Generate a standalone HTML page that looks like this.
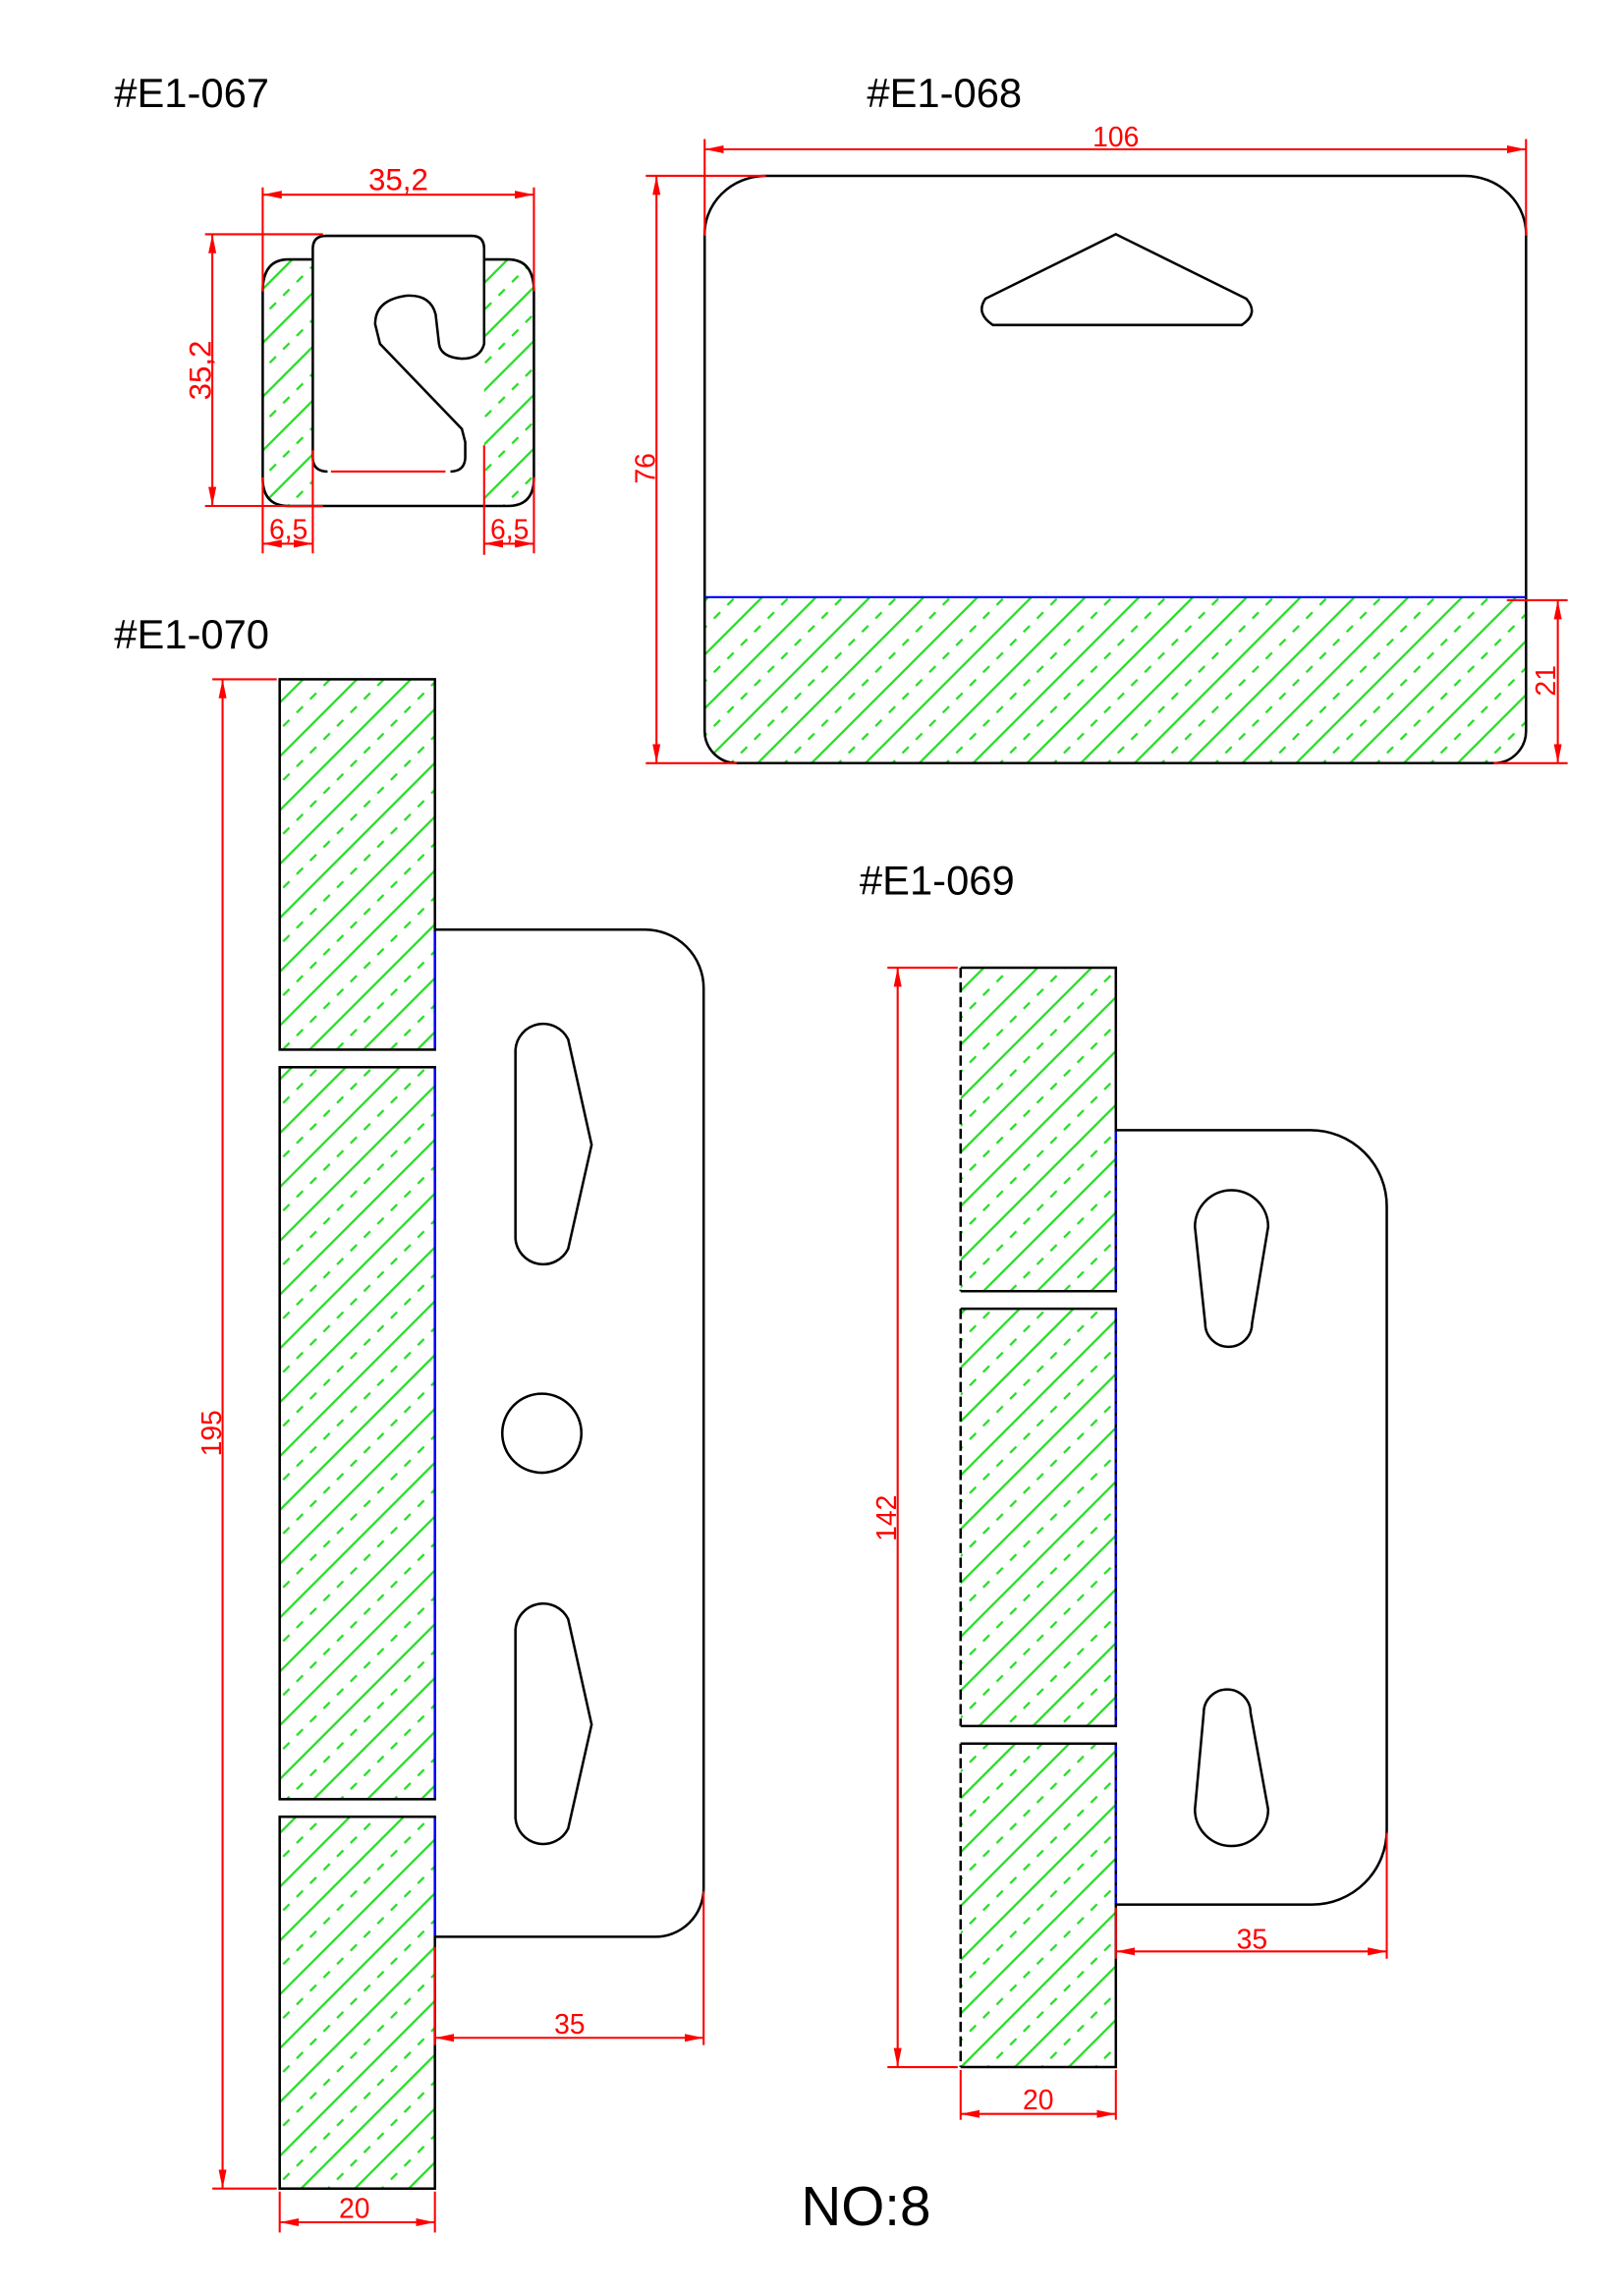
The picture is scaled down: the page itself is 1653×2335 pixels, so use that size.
<!DOCTYPE html>
<html><head><meta charset="utf-8"><style>html,body{margin:0;padding:0;background:#fff}svg{display:block}</style></head>
<body>
<svg xmlns="http://www.w3.org/2000/svg" width="1653" height="2335" viewBox="0 0 1109 1567" preserveAspectRatio="none" font-family="Liberation Sans, sans-serif">
<defs>
<pattern id="h" patternUnits="userSpaceOnUse" width="26" height="91" patternTransform="rotate(45)">
<line x1="6.5" y1="0" x2="6.5" y2="91" stroke="#22dd22" stroke-width="1.5"/>
<line x1="19.5" y1="0" x2="19.5" y2="91" stroke="#22dd22" stroke-width="1.5" stroke-dasharray="6 7"/>
</pattern>
<marker id="a" markerUnits="userSpaceOnUse" markerWidth="14" markerHeight="6" refX="13" refY="3" orient="auto-start-reverse"><path d="M0,0.3 L13,3 L0,5.7 Z" fill="#f00"/></marker>
<clipPath id="c67"><path d="M196.9,177.2 Q179.4,177.2 179.4,199.1 V326.6 Q179.4,345.6 196.9,345.6 H346.8 Q364.6,345.6 364.6,326.6 V199.1 Q364.6,177.2 346.8,177.2 Z"/></clipPath>
<clipPath id="c68"><path d="M481.2,407.9 H1042.1 V499 A22,22 0 0 1 1020,521.3 H503 A22,22 0 0 1 481.2,499 Z"/></clipPath>
</defs>

<g fill="#000" font-size="28">
<text x="78" y="73">#E1-067</text>
<text x="592" y="73">#E1-068</text>
<text x="78" y="443">#E1-070</text>
<text x="587" y="611">#E1-069</text>
<text x="547" y="1520" font-size="38">NO:8</text>
</g>

<!-- E1-067 -->
<g clip-path="url(#c67)">
<rect x="179.4" y="177" width="34.2" height="169" fill="url(#h)"/>
<rect x="330.6" y="177" width="34" height="169" fill="url(#h)"/>
</g>
<g fill="none" stroke="#000" stroke-width="1.7">
<path d="M213.6,177.2 H196.9 Q179.4,177.2 179.4,199.1 V326.6 Q179.4,345.6 196.9,345.6 H346.8 Q364.6,345.6 364.6,326.6 V199.1 Q364.6,177.2 346.8,177.2 H330.6"/>
<path d="M213.6,313.2 V170 Q213.6,161.1 222.6,161.1 H322.1 Q330.6,161.1 330.6,170 V234.9 Q328,245 315.4,245 Q301,244 299.8,234.9 L297.5,214.8 Q294,201 277.4,202 Q256,205 256.2,221.5 L259.5,234.9 L315.4,293 L317.7,302 V313.2 Q317,322 307.6,322.1"/>
<path d="M213.6,313.2 Q214,322 223.7,322.1"/>
</g>
<g stroke="#f00" stroke-width="1.4" fill="none">
<line x1="226" y1="322.1" x2="304.2" y2="322.1"/>
<line x1="179.4" y1="128" x2="179.4" y2="199"/>
<line x1="364.6" y1="128" x2="364.6" y2="199"/>
<line x1="179.4" y1="326" x2="179.4" y2="378"/>
<line x1="364.6" y1="326" x2="364.6" y2="378"/>
<line x1="213.6" y1="307.6" x2="213.6" y2="378"/>
<line x1="330.6" y1="304.2" x2="330.6" y2="379"/>
<line x1="140" y1="160" x2="220.6" y2="160"/>
<line x1="140" y1="345.6" x2="220.6" y2="345.6"/>
<line x1="179.4" y1="133" x2="364.6" y2="133" marker-start="url(#a)" marker-end="url(#a)"/>
<line x1="145" y1="160" x2="145" y2="345.6" marker-start="url(#a)" marker-end="url(#a)"/>
<line x1="179.4" y1="371.4" x2="213.6" y2="371.4" marker-start="url(#a)" marker-end="url(#a)"/>
<line x1="330.6" y1="371.4" x2="364.6" y2="371.4" marker-start="url(#a)" marker-end="url(#a)"/>
</g>
<g fill="#f00" font-size="21" text-anchor="middle">
<text x="272" y="130">35,2</text>
<text transform="translate(144,253) rotate(-90)">35,2</text>
<text x="197" y="368" font-size="19">6,5</text>
<text x="348" y="368" font-size="19">6,5</text>
</g>

<!-- E1-068 -->
<rect x="481" y="407" width="562" height="115" fill="url(#h)" clip-path="url(#c68)"/>
<g fill="none" stroke="#000" stroke-width="1.7">
<path d="M481.2,162 A42,40 0 0 1 523,120.1 H1000 A42,40 0 0 1 1042.1,162 V499 A22,22 0 0 1 1020,521.3 H503 A22,22 0 0 1 481.2,499 Z"/>
<path d="M762,160 L851,204 Q860,214 848,222 H678 Q666,214 673,204 Z"/>
</g>
<line x1="481.2" y1="407.9" x2="1042.1" y2="407.9" stroke="#00f" stroke-width="1.5"/>
<g stroke="#f00" stroke-width="1.4" fill="none">
<line x1="481.2" y1="95" x2="481.2" y2="161"/>
<line x1="1042.1" y1="95" x2="1042.1" y2="161"/>
<line x1="441" y1="120.1" x2="523" y2="120.1"/>
<line x1="441" y1="521.3" x2="503" y2="521.3"/>
<line x1="1029" y1="410" x2="1070.5" y2="410"/>
<line x1="1020" y1="521.3" x2="1070.5" y2="521.3"/>
<line x1="481.2" y1="102" x2="1042.1" y2="102" marker-start="url(#a)" marker-end="url(#a)"/>
<line x1="448.3" y1="120.1" x2="448.3" y2="521.3" marker-start="url(#a)" marker-end="url(#a)"/>
<line x1="1063.8" y1="410" x2="1063.8" y2="521.3" marker-start="url(#a)" marker-end="url(#a)"/>
</g>
<g fill="#f00" font-size="19" text-anchor="middle">
<text x="762" y="100">106</text>
<text transform="translate(447,320) rotate(-90)">76</text>
<text transform="translate(1062,465) rotate(-90)">21</text>
</g>

<!-- E1-070 -->
<g fill="url(#h)">
<rect x="191" y="464" width="106" height="253"/>
<rect x="191" y="729" width="106" height="500"/>
<rect x="191" y="1241" width="106" height="254"/>
</g>
<g fill="none" stroke="#000" stroke-width="1.7">
<rect x="191" y="464" width="106" height="253"/>
<rect x="191" y="729" width="106" height="500"/>
<rect x="191" y="1241" width="106" height="254"/>
<path d="M297,635 H440 A40,40 0 0 1 480.5,675 V1290 A33,33 0 0 1 447,1323 H297"/>
<path d="M352,717 A19,19 0 0 1 388,710 L404,782 L388,853 A19,19 0 0 1 352,846 Z"/>
<path d="M352,1113 A19,19 0 0 1 388,1106 L404,1178 L388,1249 A19,19 0 0 1 352,1242 Z"/>
<circle cx="370" cy="979" r="27"/>
</g>
<g stroke="#00f" stroke-width="1.5">
<line x1="297" y1="636" x2="297" y2="716"/>
<line x1="297" y1="730" x2="297" y2="1228"/>
<line x1="297" y1="1242" x2="297" y2="1322"/>
</g>
<g stroke="#f00" stroke-width="1.4" fill="none">
<line x1="145" y1="464" x2="189" y2="464"/>
<line x1="145" y1="1495" x2="189" y2="1495"/>
<line x1="152" y1="464" x2="152" y2="1495" marker-start="url(#a)" marker-end="url(#a)"/>
<line x1="480.5" y1="1292" x2="480.5" y2="1397"/>
<line x1="297" y1="1330" x2="297" y2="1397"/>
<line x1="297" y1="1392" x2="480.5" y2="1392" marker-start="url(#a)" marker-end="url(#a)"/>
<line x1="191" y1="1497" x2="191" y2="1525"/>
<line x1="297" y1="1497" x2="297" y2="1525"/>
<line x1="191" y1="1518" x2="297" y2="1518" marker-start="url(#a)" marker-end="url(#a)"/>
</g>
<g fill="#f00" font-size="19" text-anchor="middle">
<text transform="translate(151,979) rotate(-90)">195</text>
<text x="389" y="1389">35</text>
<text x="242" y="1515">20</text>
</g>

<!-- E1-069 -->
<g fill="url(#h)">
<rect x="656" y="661" width="106" height="221"/>
<rect x="656" y="894" width="106" height="285"/>
<rect x="656" y="1191" width="106" height="221"/>
</g>
<g fill="none" stroke="#000" stroke-width="1.7">
<path d="M656,661 H762 V882 H656"/><line x1="656" y1="661" x2="656" y2="882" stroke-dasharray="7 3"/>
<path d="M656,894 H762 V1179 H656"/><line x1="656" y1="894" x2="656" y2="1179" stroke-dasharray="7 3"/>
<path d="M656,1191 H762 V1412 H656"/><line x1="656" y1="1191" x2="656" y2="1412" stroke-dasharray="7 3"/>
<path d="M762,772 H895 A52,52 0 0 1 947,824 V1250 A51,51 0 0 1 896,1301 H762"/>
<path d="M816,838 A25,25 0 0 1 866,838 L855,904 A16,16 0 0 1 823,904 Z"/>
<path d="M822,1170 A16,16 0 0 1 854,1170 L866,1236 A25,25 0 0 1 816,1236 Z"/>
</g>
<g stroke="#00f" stroke-width="1.5" stroke-dasharray="6 2">
<line x1="762" y1="773" x2="762" y2="881"/>
<line x1="762" y1="895" x2="762" y2="1178"/>
<line x1="762" y1="1192" x2="762" y2="1300"/>
</g>
<g stroke="#f00" stroke-width="1.4" fill="none">
<line x1="606" y1="661" x2="654" y2="661"/>
<line x1="606" y1="1412" x2="654" y2="1412"/>
<line x1="613" y1="661" x2="613" y2="1412" marker-start="url(#a)" marker-end="url(#a)"/>
<line x1="947" y1="1252" x2="947" y2="1338"/>
<line x1="762" y1="1303" x2="762" y2="1338"/>
<line x1="762" y1="1333" x2="947" y2="1333" marker-start="url(#a)" marker-end="url(#a)"/>
<line x1="656" y1="1414" x2="656" y2="1448"/>
<line x1="762" y1="1414" x2="762" y2="1448"/>
<line x1="656" y1="1444" x2="762" y2="1444" marker-start="url(#a)" marker-end="url(#a)"/>
</g>
<g fill="#f00" font-size="19" text-anchor="middle">
<text transform="translate(612,1037) rotate(-90)">142</text>
<text x="855" y="1331">35</text>
<text x="709" y="1441">20</text>
</g>
</svg>
</body></html>
